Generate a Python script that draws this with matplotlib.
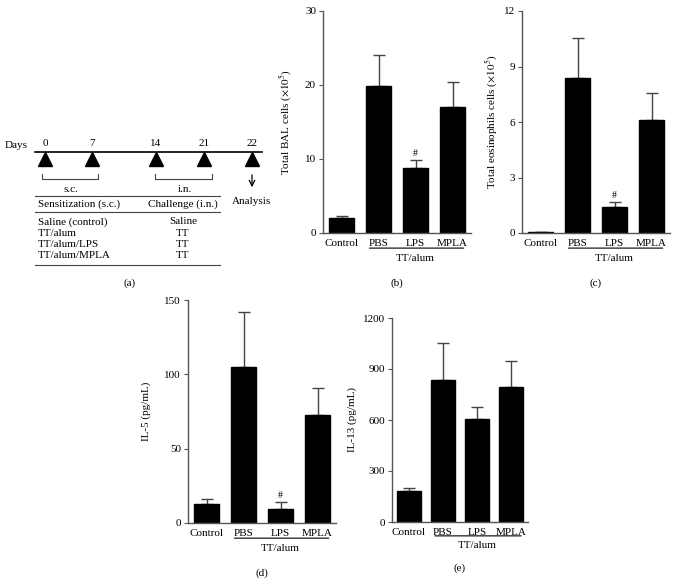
import matplotlib
matplotlib.use('Agg')
import matplotlib.pyplot as plt
import numpy as np

plt.rcParams['font.family'] = ['Liberation Serif', 'DejaVu Serif']
plt.rcParams['mathtext.fontset'] = 'stix'

W, H = 677, 582

groups = ['Control', 'PBS', 'LPS', 'MPLA']

bal_mean = [2.0, 19.8, 8.8, 17.0]
bal_err = [0.3, 4.3, 1.0, 3.4]
bal_marks = ['', '', '#', '']

eos_mean = [0.05, 8.4, 1.4, 6.1]
eos_err = [0.02, 2.15, 0.25, 1.45]
eos_marks = ['', '', '#', '']

il5_mean = [12.5, 105, 9.5, 72.5]
il5_err = [3.5, 37, 4.5, 18.5]
il5_marks = ['', '', '#', '']

il13_mean = [182, 838, 603, 793]
il13_err = [20, 217, 73, 156]
il13_marks = ['', '', '', '']

days = ['0', '7', '14', '21', '22']
day_x = [45, 92, 156, 204, 252]   # layout of the timeline

protocol_sens = ['Saline (control)', 'TT/alum', 'TT/alum/LPS', 'TT/alum/MPLA']
protocol_chal = ['Saline', 'TT', 'TT', 'TT']

fig = plt.figure(figsize=(W / 100, H / 100), dpi=100)

def px_axes(left, top, w, h, **kw):
    return fig.add_axes([left / W, 1 - (top + h) / H, w / W, h / H], **kw)

def bar_panel(left, top, w, h, means, errs, marks, ymax, step, ylabel, tag, lpad=6):
    ax = px_axes(left, top, w, h)
    x = np.arange(len(groups))
    ax.bar(x, means, width=0.68, color='black', edgecolor='black', zorder=2)
    ax.errorbar(x, means, yerr=[np.zeros(len(errs)), errs], fmt='none',
                ecolor='#444444', elinewidth=1.0, capsize=4, capthick=1.0, zorder=1)
    for xi, m, e, s in zip(x, means, errs, marks):
        if s:
            ax.text(xi, m + e + ymax * 0.01, s, ha='center', va='bottom', fontsize=7)
    ax.set_xlim(-0.5, 3.5)
    ax.set_ylim(0, ymax)
    ax.set_yticks(np.arange(0, ymax + step / 2, step))
    ax.set_xticks(x)
    ax.set_xticklabels(groups, fontsize=8)
    ax.tick_params(axis='x', length=0, pad=4)
    ax.tick_params(axis='y', length=3, width=0.8, labelsize=8, pad=2, color='#555555')
    for s in ['top', 'right']:
        ax.spines[s].set_visible(False)
    for s in ['left', 'bottom']:
        ax.spines[s].set_color('#555555')
        ax.spines[s].set_linewidth(1.0)
    ax.set_ylabel(ylabel, fontsize=8, labelpad=lpad)
    ax.annotate('', xy=(0.68, -0.068), xytext=(3.38, -0.068),
                xycoords=('data', 'axes fraction'), textcoords=('data', 'axes fraction'),
                arrowprops=dict(arrowstyle='-', color='black', lw=0.8))
    ax.text(2.0, -0.115, 'TT/alum', transform=ax.get_xaxis_transform(),
            ha='center', va='center', fontsize=8)
    ax.text(1.5, -0.225, tag, transform=ax.get_xaxis_transform(),
            ha='center', va='center', fontsize=8)
    return ax

bar_panel(323, 11, 148, 222, bal_mean, bal_err, bal_marks, 30, 10,
          r'Total BAL cells ($\times10^5$)', '(b)', lpad=8)
bar_panel(522, 11, 148, 222, eos_mean, eos_err, eos_marks, 12, 3,
          r'Total eosinophils cells ($\times10^5$)', '(c)', lpad=3)
bar_panel(188, 300, 148, 223, il5_mean, il5_err, il5_marks, 150, 50,
          'IL-5 (pg/mL)', '(d)', lpad=10)
bar_panel(392, 318, 136, 204, il13_mean, il13_err, il13_marks, 1200, 300,
          'IL-13 (pg/mL)', '(e)', lpad=4)

# panel (a): timeline and protocol table, drawn in pixel space
ax = px_axes(0, 135, 290, 160)
ax.set_xlim(0, 290)
ax.set_ylim(295, 135)
ax.axis('off')

ax.text(5, 145, 'Days', fontsize=8, ha='left', va='center')
ax.plot([35, 262], [152, 152], color='black', lw=1.2)
for d, xd in zip(days, day_x):
    ax.text(xd, 144, d, fontsize=8, ha='center', va='center')
ax.plot(day_x, [158.5] * len(day_x), linestyle='none', marker='^',
        markersize=10, color='black')

gray = '#444444'
for x0, x1, lab in [(42, 98, 's.c.'), (155, 212, 'i.n.')]:
    ax.plot([x0, x0, x1, x1], [174, 179, 179, 174], color=gray, lw=0.8)
    ax.text((x0 + x1) / 2 + 1, 189, lab, fontsize=8, ha='center', va='center')

ax.annotate('', xy=(252, 190), xytext=(252, 172),
            arrowprops=dict(arrowstyle='->', color='black', lw=0.9))
ax.text(252, 202, 'Analysis', fontsize=8, ha='center', va='center')

for yl in [196, 212, 265]:
    ax.plot([35, 220], [yl, yl], color=gray, lw=0.8)
ax.text(38, 204, 'Sensitization (s.c.)', fontsize=8, ha='left', va='center')
ax.text(183, 204, 'Challenge (i.n.)', fontsize=8, ha='center', va='center')
for i, (s, c) in enumerate(zip(protocol_sens, protocol_chal)):
    yr = 222 + i * 11.2
    ax.text(38, yr, s, fontsize=8, ha='left', va='center')
    ax.text(183, yr, c, fontsize=8, ha='center', va='center')
ax.text(130, 283, '(a)', fontsize=8, ha='center', va='center')

fig.savefig('out.png', dpi=100)
